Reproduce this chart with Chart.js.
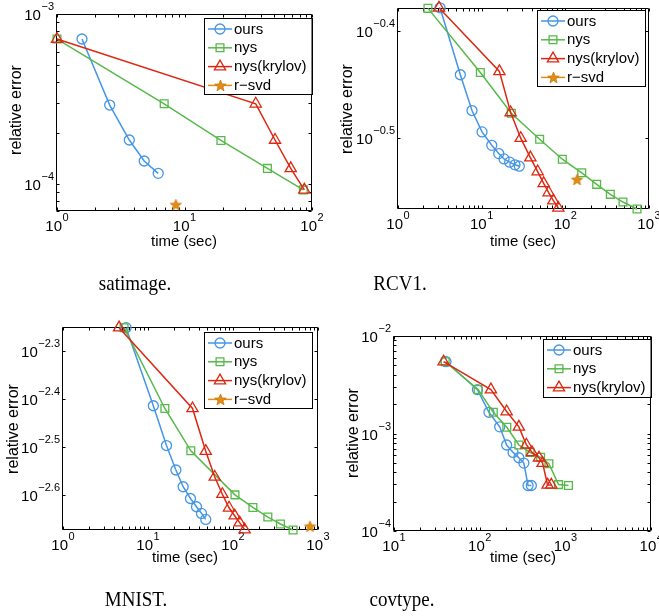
<!DOCTYPE html>
<html>
<head>
<meta charset="utf-8">
<script src="https://cdn.jsdelivr.net/npm/chart.js@4.4.1/dist/chart.umd.min.js"></script>
<style>
  html, body { margin: 0; padding: 0; background: #fff; }
  #page { position: relative; width: 659px; height: 616px; overflow: hidden; }
  #page canvas { position: absolute; left: 0; top: 0; }
  .cap {
    position: absolute; font-family: "Liberation Serif", "Times New Roman", serif;
    font-size: 19px; line-height: 19px; color: #000; white-space: nowrap;
    transform: translateX(-50%) scale(1, 1.15); transform-origin: 50% 0;
  }
</style>
</head>
<body>
<div id="page">
  <canvas id="c1" width="659" height="616"></canvas>
  <canvas id="c2" width="659" height="616"></canvas>
  <canvas id="c3" width="659" height="616"></canvas>
  <canvas id="c4" width="659" height="616"></canvas>
  <div class="cap" style="left:135px;top:272px">satimage.</div>
  <div class="cap" style="left:400px;top:272px">RCV1.</div>
  <div class="cap" style="left:136px;top:588px">MNIST.</div>
  <div class="cap" style="left:402px;top:588px">covtype.</div>
</div>
<script>
// satimage
const satOursT = [1.57, 2.59, 3.69, 4.83, 6.22];
const satOursE = [7.13e-4, 2.92e-4, 1.82e-4, 1.37e-4, 1.16e-4];
const satNysT = [1.0, 6.93, 19.3, 44.7, 85.5];
const satNysE = [7.13e-4, 2.97e-4, 1.81e-4, 1.24e-4, 9.27e-5];
const satKryT = [1.0, 36.2, 51.3, 68.1, 87.1];
const satKryE = [7.13e-4, 2.97e-4, 1.82e-4, 1.24e-4, 9.27e-5];
const satSvdT = [8.55];
const satSvdE = [7.59e-5];
const satXTicks = [1, 10, 100];
const satXExp = ['0', '1', '2'];
const satYTicks = [1e-4, 1e-3];
const satYExp = ['\u22124', '\u22123'];

// RCV1
const rcvOursT = [3.18, 5.56, 7.66, 10.1, 13.2, 16.0, 18.5, 21.6, 25.0, 28.2];
const rcvOursE = [0.4185, 0.3623, 0.3354, 0.3203, 0.3112, 0.3057, 0.3022, 0.3001, 0.2984, 0.2975];
const rcvNysT = [2.28, 9.64, 22.6, 49.3, 92.1, 157, 237, 345, 489, 719];
const rcvNysE = [0.4180, 0.3641, 0.3335, 0.3153, 0.3020, 0.2933, 0.2861, 0.2800, 0.2754, 0.2713];
const rcvKryT = [3.09, 16.3, 22.2, 29.3, 38.2, 46.7, 55.1, 63.2, 71.9, 82.5];
const rcvKryE = [0.4185, 0.3649, 0.3340, 0.3160, 0.3031, 0.2941, 0.2867, 0.2811, 0.2762, 0.2719];
const rcvSvdT = [138];
const rcvSvdE = [0.2891];
const rcvXTicks = [1, 10, 100, 1000];
const rcvXExp = ['0', '1', '2', '3'];
const rcvYTicks = [Math.pow(10, -0.5), Math.pow(10, -0.4)];
const rcvYExp = ['\u22120.5', '\u22120.4'];

// MNIST
const mnOursT = [5.52, 11.55, 16.5, 21.3, 25.9, 31.6, 37.2, 42.6, 47.8];
const mnOursE = [0.00561, 0.003855, 0.003184, 0.002831, 0.002612, 0.002469, 0.002373, 0.002298, 0.002233];
const mnNysT = [5.23, 15.8, 31.9, 105.5, 171.5, 257, 362, 509];
const mnNysE = [0.00561, 0.003805, 0.003105, 0.002512, 0.002365, 0.002258, 0.002184, 0.002122];
const mnKryT = [4.57, 33.4, 47.8, 61.0, 75.0, 89.8, 104.6, 119.7, 137];
const mnKryE = [0.00561, 0.003805, 0.003099, 0.002738, 0.002520, 0.002361, 0.002273, 0.002198, 0.002126];
const mnSvdT = [806];
const mnSvdE = [0.002160];
const mnXTicks = [1, 10, 100, 1000];
const mnXExp = ['0', '1', '2', '3'];
const mnYTicks = [Math.pow(10, -2.6), Math.pow(10, -2.5), Math.pow(10, -2.4), Math.pow(10, -2.3)];
const mnYExp = ['\u22122.6', '\u22122.5', '\u22122.4', '\u22122.3'];

// covtype
const covOursT = [40.4, 94.0, 128, 171, 206, 245, 286, 327, 366, 400];
const covOursE = [5.45e-3, 2.82e-3, 1.65e-3, 1.17e-3, 7.62e-4, 6.40e-4, 5.64e-4, 4.97e-4, 2.93e-4, 2.93e-4];
const covNysT = [39.6, 95.7, 144, 207, 286, 386, 513, 641, 830, 1084];
const covNysE = [5.45e-3, 2.82e-3, 1.65e-3, 1.16e-3, 7.62e-4, 6.40e-4, 5.70e-4, 4.90e-4, 2.99e-4, 2.93e-4];
const covKryT = [37.9, 135, 206, 286, 350, 407, 491, 541, 619, 683];
const covKryE = [5.45e-3, 2.82e-3, 1.68e-3, 1.17e-3, 7.67e-4, 6.40e-4, 5.64e-4, 4.97e-4, 2.97e-4, 2.97e-4];
const covXTicks = [10, 100, 1000, 10000];
const covXExp = ['1', '2', '3', '4'];
const covYTicks = [1e-4, 1e-3, 1e-2];
const covYExp = ['\u22124', '\u22123', '\u22122'];

const FONT = '"Liberation Sans", Arial, Helvetica, sans-serif';
const BLUE = '#4596e4';
const GREEN = '#57b94a';
const RED = '#dc2812';
const ORANGE = '#e48c12';

function makeStar(color, R) {
  const c = document.createElement('canvas');
  const s = Math.ceil(R * 2 + 3);
  c.width = s; c.height = s;
  const g = c.getContext('2d');
  g.beginPath();
  for (let i = 0; i < 10; i++) {
    const rr = i % 2 ? R * 0.42 : R;
    const a = -Math.PI / 2 + i * Math.PI / 5;
    g.lineTo(s / 2 + rr * Math.cos(a), s / 2 + 0.5 + rr * Math.sin(a));
  }
  g.closePath();
  g.fillStyle = color; g.fill();
  g.strokeStyle = '#c8760a'; g.lineWidth = 0.8; g.stroke();
  return c;
}
const starImg = makeStar(ORANGE, 6);

function series(label, T, E, color, style, radius, order) {
  return {
    label,
    data: T.map((t, i) => ({ x: t, y: E[i] })),
    showLine: true,
    borderColor: color,
    borderWidth: 1.5,
    pointStyle: style,
    pointRadius: radius,
    pointBorderColor: color,
    pointBackgroundColor: 'rgba(0,0,0,0)',
    pointBorderWidth: 1.3,
    clip: false,
    order
  };
}

function svdSeries(T, E) {
  return {
    label: 'r\u2212svd',
    data: T.map((t, i) => ({ x: t, y: E[i] })),
    showLine: false,
    borderColor: ORANGE,
    borderWidth: 1.5,
    pointStyle: starImg,
    pointRadius: 6,
    pointBackgroundColor: ORANGE,
    pointBorderColor: ORANGE,
    clip: false,
    order: 0
  };
}

function minorTicks(min, max) {
  const out = [];
  for (let k = Math.floor(Math.log10(min)); k <= Math.ceil(Math.log10(max)); k++) {
    for (let m = 2; m <= 9; m++) {
      const v = m * Math.pow(10, k);
      if (v > min && v < max) out.push(v);
    }
  }
  return out;
}

function drawPow(ctx, exp, x, baseY, align) {
  ctx.font = '15px ' + FONT;
  const w1 = ctx.measureText('10').width;
  ctx.font = '11px ' + FONT;
  const w2 = ctx.measureText(exp).width;
  const total = w1 + w2 + 0.5;
  const x0 = align === 'center' ? x - total / 2 : x - total;
  ctx.textAlign = 'left';
  ctx.textBaseline = 'alphabetic';
  ctx.font = '15px ' + FONT;
  ctx.fillText('10', x0, baseY);
  ctx.font = '11px ' + FONT;
  ctx.fillText(exp, x0 + w1 + 0.5, baseY - 10);
}

function drawMarker(ctx, ds, x, y) {
  const st = ds.pointStyle;
  const r = ds.pointRadius;
  if (st instanceof HTMLCanvasElement) {
    ctx.drawImage(st, Math.round(x - st.width / 2), Math.round(y - st.height / 2));
    return;
  }
  ctx.beginPath();
  if (st === 'circle') {
    ctx.arc(x, y, r, 0, 2 * Math.PI);
  } else if (st === 'rect') {
    const s = r * Math.SQRT1_2;
    ctx.rect(x - s, y - s, 2 * s, 2 * s);
  } else if (st === 'triangle') {
    let a = 0;
    ctx.moveTo(x + Math.sin(a) * r, y - Math.cos(a) * r);
    a += 2 * Math.PI / 3;
    ctx.lineTo(x + Math.sin(a) * r, y - Math.cos(a) * r);
    a += 2 * Math.PI / 3;
    ctx.lineTo(x + Math.sin(a) * r, y - Math.cos(a) * r);
    ctx.closePath();
  }
  ctx.lineWidth = ds.pointBorderWidth;
  ctx.strokeStyle = ds.pointBorderColor;
  ctx.stroke();
}

const matlabAxes = {
  id: 'matlabAxes',
  beforeDatasetsDraw(chart, args, o) {
    const ctx = chart.ctx;
    const a = chart.chartArea;
    const xs = chart.scales.x;
    const ys = chart.scales.y;
    const L = Math.round(a.left) - 0.5, R = Math.round(a.right) - 0.5;
    const T = Math.round(a.top) + 0.5, B = Math.round(a.bottom) - 0.5;
    const len = 3;
    ctx.save();
    ctx.strokeStyle = '#000';
    ctx.lineWidth = 1;
    ctx.beginPath();
    const xt = o.xTicks.concat(minorTicks(xs.min, xs.max));
    xt.forEach(v => {
      const px = Math.round(xs.getPixelForValue(v)) + 0.5;
      ctx.moveTo(px, B); ctx.lineTo(px, B - len);
      ctx.moveTo(px, T); ctx.lineTo(px, T + len);
    });
    const yt = o.yTicks.concat(o.yMinor ? minorTicks(ys.min, ys.max) : []);
    yt.forEach(v => {
      const py = Math.round(ys.getPixelForValue(v)) + 0.5;
      ctx.moveTo(L, py); ctx.lineTo(L + len, py);
      ctx.moveTo(R, py); ctx.lineTo(R - len, py);
    });
    ctx.rect(L, T, R - L, B - T);
    ctx.stroke();

    ctx.fillStyle = '#000';
    o.xTicks.forEach((v, i) => drawPow(ctx, o.xExp[i], xs.getPixelForValue(v), a.bottom + 20, 'center'));
    o.yTicks.forEach((v, i) => drawPow(ctx, o.yExp[i], a.left - 3, ys.getPixelForValue(v) + 6, 'right'));

    ctx.textAlign = 'center';
    ctx.textBaseline = 'middle';
    ctx.font = '15px ' + FONT;
    ctx.fillText('time (sec)', o.xLabel[0], o.xLabel[1]);
    ctx.save();
    ctx.translate(o.yLabel[0], o.yLabel[1]);
    ctx.rotate(-Math.PI / 2);
    ctx.font = '16px ' + FONT;
    ctx.fillText('relative error', 0, 0);
    ctx.restore();
    ctx.restore();
  },
  afterDraw(chart, args, o) {
    const ctx = chart.ctx;
    const sets = chart.data.datasets;
    ctx.save();
    ctx.font = '15px ' + FONT;
    const tw = Math.max(...sets.map(d => ctx.measureText(d.label).width));
    const bx = o.legend[0], by = o.legend[1];
    const w = 30 + tw + 5;
    const h = 20 + (sets.length - 1) * 18.8;
    ctx.fillStyle = '#fff';
    ctx.fillRect(bx, by, w, h);
    ctx.strokeStyle = '#000';
    ctx.lineWidth = 1;
    ctx.strokeRect(Math.round(bx) + 0.5, Math.round(by) + 0.5, Math.round(w), Math.round(h));
    sets.forEach((d, i) => {
      const y = by + 11 + i * 18.8;
      ctx.beginPath();
      ctx.strokeStyle = d.borderColor;
      ctx.lineWidth = 1.5;
      ctx.moveTo(bx + 4, y); ctx.lineTo(bx + 28, y);
      ctx.stroke();
      drawMarker(ctx, d, bx + 16, y);
      ctx.fillStyle = '#000';
      ctx.textAlign = 'left';
      ctx.textBaseline = 'middle';
      ctx.font = '15px ' + FONT;
      ctx.fillText(d.label, bx + 30, y + 0.5);
    });
    ctx.restore();
  }
};

function makeChart(id, box, xRange, yRange, datasets, axes) {
  return new Chart(document.getElementById(id), {
    type: 'scatter',
    data: { datasets },
    options: {
      responsive: false,
      devicePixelRatio: 1,
      animation: false,
      events: [],
      layout: { padding: { left: box[0], top: box[1], right: 659 - box[2], bottom: 616 - box[3] } },
      scales: {
        x: { type: 'logarithmic', min: xRange[0], max: xRange[1], display: false },
        y: { type: 'logarithmic', min: yRange[0], max: yRange[1], display: false }
      },
      plugins: {
        legend: { display: false },
        tooltip: { enabled: false },
        matlabAxes: axes
      }
    },
    plugins: [matlabAxes]
  });
}

makeChart('c1', [57, 14, 312, 211], [1, 100], [6.97e-5, 1e-3], [
  series('ours', satOursT, satOursE, BLUE, 'circle', 5, 4),
  series('nys', satNysT, satNysE, GREEN, 'rect', 5.5, 3),
  series('nys(krylov)', satKryT, satKryE, RED, 'triangle', 6.5, 2),
  svdSeries(satSvdT, satSvdE)
], {
  xTicks: satXTicks, xExp: satXExp, yTicks: satYTicks, yExp: satYExp, yMinor: true,
  xLabel: [184, 242], yLabel: [17, 110], legend: [204, 18]
});

makeChart('c2', [398, 7, 649, 209], [1, 1000], [0.2713, 0.4185], [
  series('ours', rcvOursT, rcvOursE, BLUE, 'circle', 5, 4),
  series('nys', rcvNysT, rcvNysE, GREEN, 'rect', 5.5, 3),
  series('nys(krylov)', rcvKryT, rcvKryE, RED, 'triangle', 6.5, 2),
  svdSeries(rcvSvdT, rcvSvdE)
], {
  xTicks: rcvXTicks, xExp: rcvXExp, yTicks: rcvYTicks, yExp: rcvYExp, yMinor: false,
  xLabel: [523, 242], yLabel: [348, 109], legend: [537, 10]
});

makeChart('c3', [63, 327, 318, 530], [1, 1000], [0.002122, 0.005628], [
  series('ours', mnOursT, mnOursE, BLUE, 'circle', 5, 4),
  series('nys', mnNysT, mnNysE, GREEN, 'rect', 5.5, 3),
  series('nys(krylov)', mnKryT, mnKryE, RED, 'triangle', 6.5, 2),
  svdSeries(mnSvdT, mnSvdE)
], {
  xTicks: mnXTicks, xExp: mnXExp, yTicks: mnYTicks, yExp: mnYExp, yMinor: false,
  xLabel: [185, 558], yLabel: [14, 429], legend: [204, 332]
});

makeChart('c4', [394, 336, 652, 531], [10, 10000], [1e-4, 1e-2], [
  series('ours', covOursT, covOursE, BLUE, 'circle', 5, 4),
  series('nys', covNysT, covNysE, GREEN, 'rect', 5.5, 3),
  series('nys(krylov)', covKryT, covKryE, RED, 'triangle', 6.5, 2)
], {
  xTicks: covXTicks, xExp: covXExp, yTicks: covYTicks, yExp: covYExp, yMinor: true,
  xLabel: [523, 558], yLabel: [354, 433], legend: [543, 339]
});
</script>
</body>
</html>
